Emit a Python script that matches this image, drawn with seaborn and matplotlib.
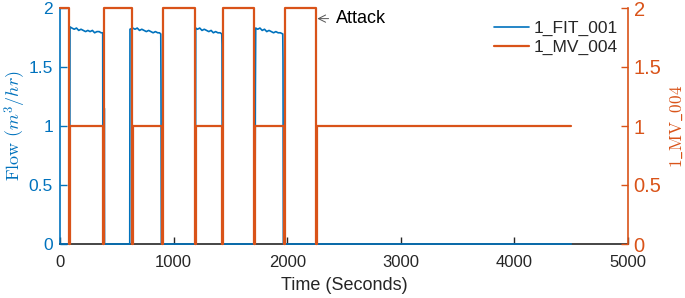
import matplotlib
matplotlib.use('Agg')
import matplotlib.pyplot as plt
import seaborn as sns

# ---- data ----
# 1_MV_004 valve state (step values, brief 0 at each transition)
mv_time = [0, 79, 85, 378, 384, 634, 640, 898, 904, 1188, 1194, 1430, 1436,
           1708, 1714, 1975, 1981, 2254, 2260, 4500]
mv_state = [2, 0, 1, 0, 2, 0, 1, 0, 2, 0, 1, 0, 2, 0, 1, 0, 2, 0, 1, 1]

# 1_FIT_001 flow
fit_time = [0, 86, 88, 105, 125, 145, 165, 185, 205, 225, 245, 265, 285, 305,
            325, 345, 362, 376, 378, 388, 390, 392, 614,
            616, 640, 660, 680, 700, 720, 740, 760, 780, 800, 820, 840, 860,
            875, 887, 889, 892,
            1193, 1195, 1210, 1230, 1250, 1270, 1290, 1310, 1330, 1350, 1370,
            1390, 1410, 1424, 1426, 1429,
            1716, 1720, 1723, 1740, 1760, 1780, 1800, 1820, 1840, 1860, 1880,
            1900, 1920, 1940, 1961, 1963, 1966, 4500]
fit_flow = [0, 0, 1.84, 1.83, 1.82, 1.83, 1.81, 1.82, 1.81, 1.80, 1.81, 1.80,
            1.81, 1.79, 1.80, 1.80, 1.79, 1.79, 0, 0, 1.15, 0, 0,
            1.82, 1.83, 1.82, 1.83, 1.81, 1.82, 1.81, 1.80, 1.81, 1.80, 1.79,
            1.80, 1.79, 1.79, 1.78, 1.37, 0,
            0, 1.83, 1.82, 1.83, 1.81, 1.82, 1.81, 1.80, 1.81, 1.79, 1.80,
            1.79, 1.79, 1.78, 1.69, 0,
            0, 1.32, 1.83, 1.82, 1.83, 1.81, 1.82, 1.80, 1.81, 1.80, 1.79,
            1.80, 1.79, 1.79, 1.78, 1.56, 0, 0]

x_ticks = [0, 1000, 2000, 3000, 4000, 5000]
y_ticks = [0, 0.5, 1, 1.5, 2]

BLUE = '#0072BD'
ORANGE = '#D95319'

sns.set_theme(style='white')
plt.rcParams['font.family'] = ['Liberation Sans', 'DejaVu Sans']
plt.rcParams['mathtext.fontset'] = 'cm'

fig = plt.figure(figsize=(6.85, 2.98), dpi=100)
ax = fig.add_axes([60 / 685, 1 - 244 / 298, 568 / 685, 236 / 298])
ax2 = ax.twinx()

sns.lineplot(x=fit_time, y=fit_flow, ax=ax, color=BLUE, lw=1.2,
             estimator=None, sort=False, label='1_FIT_001', legend=False,
             clip_on=False, zorder=3)
sns.lineplot(x=mv_time, y=mv_state, ax=ax2, color=ORANGE, lw=1.6,
             estimator=None, sort=False, label='1_MV_004', legend=False,
             drawstyle='steps-post', clip_on=False, zorder=3)

for a in (ax, ax2):
    a.set_xlim(0, 5000)
    a.set_ylim(0, 2)
    a.set_yticks(y_ticks)
    a.set_yticklabels(['0', '0.5', '1', '1.5', '2'])
    a.spines['top'].set_visible(False)

ax.set_xticks(x_ticks)
ax.set_xticklabels([str(t) for t in x_ticks])
ax.spines['right'].set_visible(False)
ax.spines['left'].set_color(BLUE)
ax.spines['bottom'].set_color('#262626')
ax2.spines['left'].set_visible(False)
ax2.spines['bottom'].set_visible(False)
ax2.spines['right'].set_color(ORANGE)
for s in ('left', 'bottom'):
    ax.spines[s].set_linewidth(1.2)
ax2.spines['right'].set_linewidth(1.2)

ax.tick_params(axis='x', direction='in', length=5, width=1, colors='#262626',
               labelsize=12, pad=8, bottom=True)
ax.tick_params(axis='y', direction='in', length=5, width=1, colors=BLUE,
               labelsize=12.5, pad=5, left=True)
ax2.tick_params(axis='y', direction='in', length=5, width=1, colors=ORANGE,
                labelsize=14.5, pad=4, right=True)

ax.set_xlabel('Time (Seconds)', fontsize=13, color='#262626', labelpad=5)
ax.set_ylabel(r'$\mathrm{Flow}\ (m^3/hr)$', fontsize=13, color=BLUE,
              labelpad=0.5)
ax2.set_ylabel(r'$\mathrm{1\_MV\_004}$', fontsize=12.5, color=ORANGE,
               labelpad=5)

ax.annotate('Attack', xy=(2265, 1.91), xytext=(2430, 1.91),
            fontsize=13, va='center', ha='left', color='black',
            arrowprops=dict(arrowstyle='->', color='#555555', lw=0.7,
                            shrinkA=3, shrinkB=0))

h1, l1 = ax.get_legend_handles_labels()
h2, l2 = ax2.get_legend_handles_labels()
ax2.legend(h1 + h2, l1 + l2, loc='upper right', bbox_to_anchor=(0.995, 0.975),
           frameon=False, fontsize=12.5, handlelength=2.0, handletextpad=0.3,
           labelspacing=0.2, borderaxespad=0)

fig.savefig('out.png', dpi=100)
